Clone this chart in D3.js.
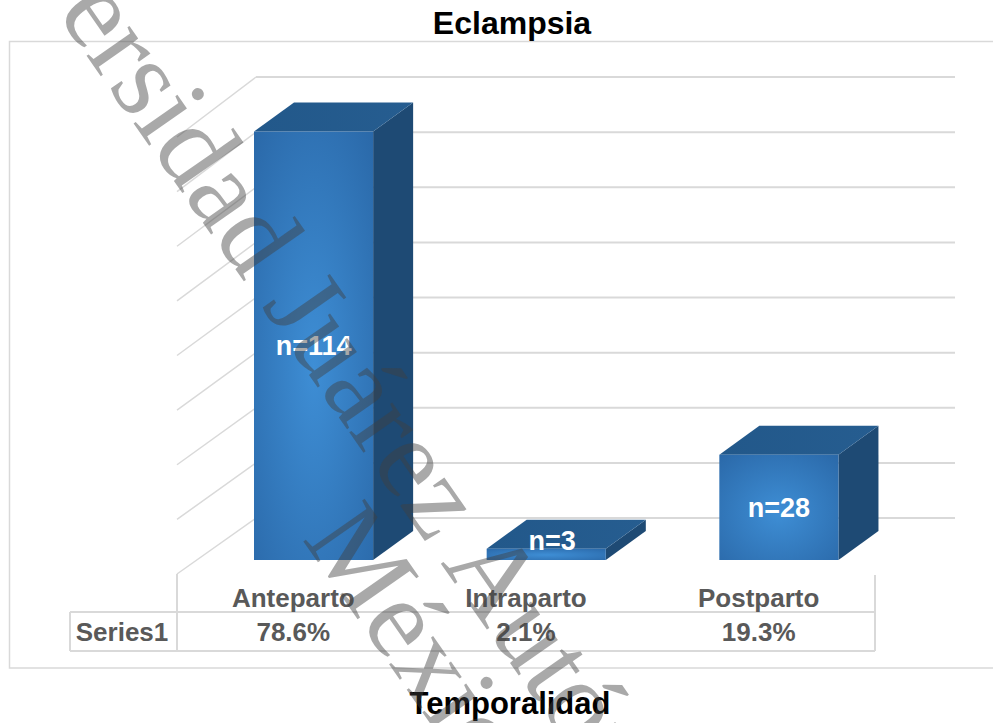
<!DOCTYPE html>
<html>
<head>
<meta charset="utf-8">
<script src="https://cdn.jsdelivr.net/npm/d3@7"></script>
<style>
  body { margin: 0; background: #fff; }
  text { font-family: "Liberation Sans", Arial, sans-serif; }
</style>
</head>
<body>
<svg id="chart" width="993" height="723"></svg>
<script>
// data
var categories = ["Anteparto", "Intraparto", "Postparto"];
var counts = [114, 3, 28];
var percents = ["78.6%", "2.1%", "19.3%"];
var seriesName = "Series1";
var gridTicks = [0, 15, 30, 45, 60, 75, 90, 105, 120];

var svg = d3.select("#chart");
var defs = svg.append("defs");

// front face gradient
var rg = defs.append("radialGradient").attr("id", "frontGrad")
  .attr("cx", "50%").attr("cy", "55%").attr("r", "75%");
rg.append("stop").attr("offset", "0%").attr("stop-color", "#3e8ed5");
rg.append("stop").attr("offset", "100%").attr("stop-color", "#2a68a8");

var tg = defs.append("linearGradient").attr("id", "topGrad")
  .attr("x1", "0").attr("y1", "0").attr("x2", "1").attr("y2", "0");
tg.append("stop").attr("offset", "0%").attr("stop-color", "#22588a");
tg.append("stop").attr("offset", "100%").attr("stop-color", "#265d90");

// scales
var x = d3.scaleBand().domain(categories).range([177, 875]);
var yBar = d3.scaleLinear().domain([0, 120]).range([560, 109]);
var yWall = d3.scaleLinear().domain([0, 120]).range([518, 77]);
var ySide = d3.scaleLinear().domain([0, 120]).range([574, 137]);

var wallLeft = 256, wallRight = 955, sideFront = 177;
var frontShift = 20;          // bar front face offset into the depth
var depth = { dx: 40, dy: -29 }; // bar depth

// outer border
svg.append("rect")
  .attr("x", 9.5).attr("y", 41.5)
  .attr("width", 1000).attr("height", 626.5)
  .attr("fill", "none").attr("stroke", "#d9d9d9").attr("stroke-width", 1.5);

// back wall gridlines
svg.append("g").selectAll("line").data(gridTicks).enter().append("line")
  .attr("x1", wallLeft).attr("x2", wallRight)
  .attr("y1", function (d) { return yWall(d); })
  .attr("y2", function (d) { return yWall(d); })
  .attr("stroke", "#d9d9d9").attr("stroke-width", 2);

// side wall gridlines
svg.append("g").selectAll("line").data(gridTicks).enter().append("line")
  .attr("x1", wallLeft).attr("x2", sideFront)
  .attr("y1", function (d) { return yWall(d); })
  .attr("y2", function (d) { return ySide(d); })
  .attr("stroke", "#d9d9d9").attr("stroke-width", 1.5);

// bars
var bars = categories.map(function (c, i) {
  var bw = x.bandwidth() * 0.512;
  var x0 = x(c) + x.bandwidth() * 0.245 + frontShift;
  return { cat: c, value: counts[i], x0: x0, x1: x0 + bw, top: yBar(counts[i]), bottom: yBar(0) };
});

var bar = svg.append("g").selectAll("g").data(bars).enter().append("g");

bar.append("path")
  .attr("fill", "#1e4a74")
  .attr("d", function (d) {
    return "M" + d.x1 + "," + d.bottom + "L" + d.x1 + "," + d.top +
      "L" + (d.x1 + depth.dx) + "," + (d.top + depth.dy) +
      "L" + (d.x1 + depth.dx) + "," + (d.bottom + depth.dy) + "Z";
  });

bar.append("path")
  .attr("fill", "url(#topGrad)")
  .attr("d", function (d) {
    return "M" + d.x0 + "," + d.top + "L" + d.x1 + "," + d.top +
      "L" + (d.x1 + depth.dx) + "," + (d.top + depth.dy) +
      "L" + (d.x0 + depth.dx) + "," + (d.top + depth.dy) + "Z";
  });

bar.append("rect")
  .attr("x", function (d) { return d.x0; })
  .attr("y", function (d) { return d.top; })
  .attr("width", function (d) { return d.x1 - d.x0; })
  .attr("height", function (d) { return d.bottom - d.top; })
  .attr("fill", "url(#frontGrad)");

// data labels
bar.append("text")
  .attr("x", function (d) {
    var cx = (d.x0 + d.x1) / 2;
    return d.bottom - d.top < 30 ? cx + 6 : cx;
  })
  .attr("y", function (d) {
    return d.bottom - d.top < 30 ? d.top - 8 : (d.top + d.bottom) / 2;
  })
  .attr("dy", "0.35em")
  .attr("text-anchor", "middle")
  .attr("fill", "#fff")
  .attr("font-weight", 700)
  .attr("font-size", 27)
  .text(function (d) { return "n=" + d.value; });

// data table
var table = svg.append("g").attr("stroke", "#d9d9d9").attr("stroke-width", 2);
table.append("line").attr("x1", 177).attr("x2", 177).attr("y1", 574).attr("y2", 651);
table.append("line").attr("x1", 875).attr("x2", 875).attr("y1", 575).attr("y2", 651);
table.append("line").attr("x1", 70).attr("x2", 70).attr("y1", 612).attr("y2", 651);
table.append("line").attr("x1", 70).attr("x2", 875).attr("y1", 612).attr("y2", 612);
table.append("line").attr("x1", 70).attr("x2", 875).attr("y1", 651).attr("y2", 651);

var cell = svg.append("g").attr("fill", "#595959").attr("font-weight", 700)
  .attr("font-size", 26).attr("text-anchor", "middle");

cell.selectAll(".cat").data(categories).enter().append("text")
  .attr("class", "cat")
  .attr("x", function (d) { return x(d) + x.bandwidth() / 2; })
  .attr("y", 607)
  .text(function (d) { return d; });

cell.selectAll(".pct").data(percents).enter().append("text")
  .attr("class", "pct")
  .attr("x", function (d, i) { return x(categories[i]) + x.bandwidth() / 2; })
  .attr("y", 641)
  .text(function (d) { return d; });

cell.append("text").attr("x", 122).attr("y", 641).text(seriesName);

// titles
svg.append("text")
  .attr("x", 512).attr("y", 34)
  .attr("text-anchor", "middle")
  .attr("font-weight", 700).attr("font-size", 32)
  .text("Eclampsia");

svg.append("text")
  .attr("x", 510).attr("y", 714)
  .attr("text-anchor", "middle")
  .attr("font-weight", 700).attr("font-size", 31)
  .text("Temporalidad");

// watermark
var wm = svg.append("g")
  .attr("transform", "translate(280,300) rotate(2.5) translate(-280,-300) translate(-94.5,-158.6) rotate(52.6)")
  .attr("fill", "#404040").attr("fill-opacity", 0.45)
  .attr("font-size", 114);
wm.append("text").attr("x", 0).attr("y", 0)
  .style("font-family", "'Liberation Serif', 'Times New Roman', serif")
  .text("Universidad Juárez Autónoma de Tabasco");
wm.append("text").attr("x", 800).attr("y", 100)
  .style("font-family", "'Liberation Serif', 'Times New Roman', serif")
  .text("México");
</script>
</body>
</html>
